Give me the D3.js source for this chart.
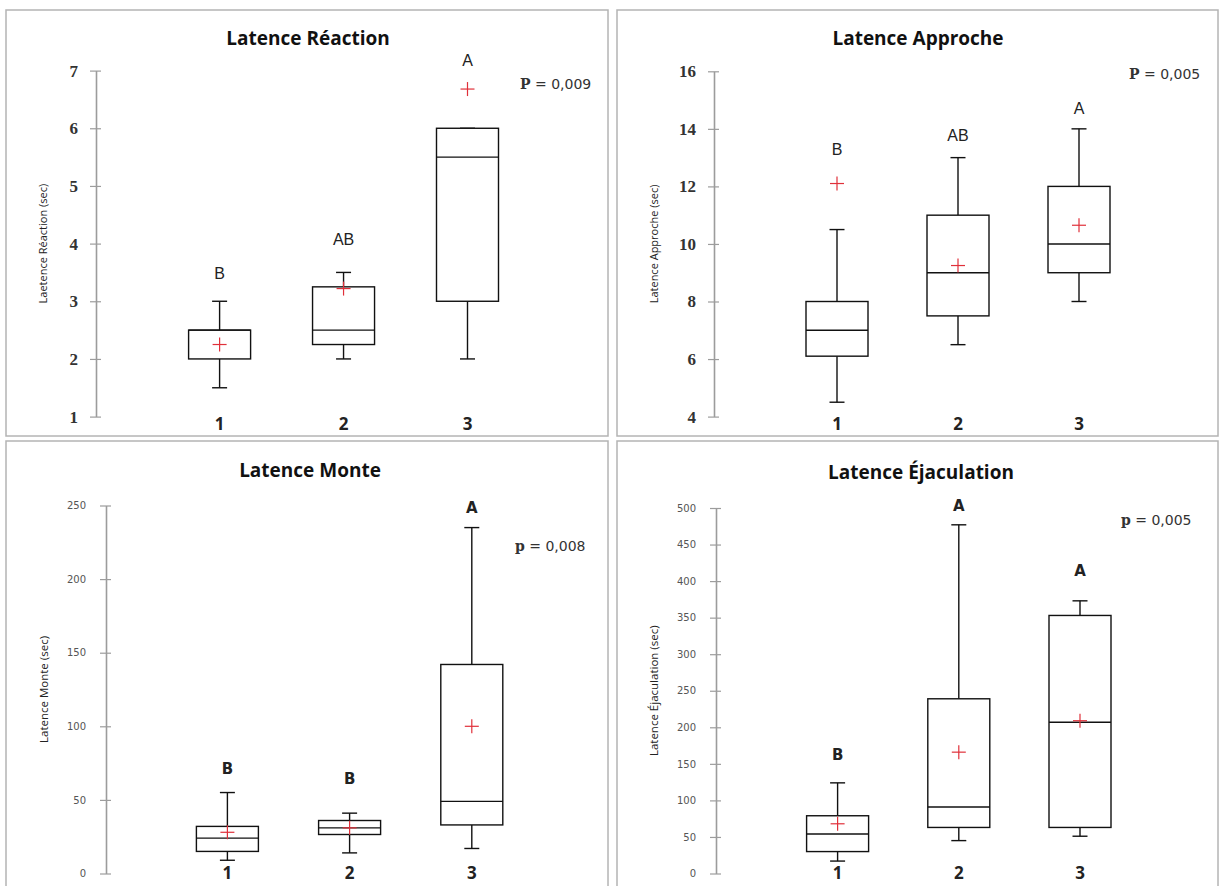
<!DOCTYPE html>
<html>
<head>
<meta charset="utf-8">
<script src="https://cdn.jsdelivr.net/npm/d3@7"></script>
<style>
  html, body { margin: 0; padding: 0; background: #fff; }
  svg { display: block; }
</style>
</head>
<body>
<svg id="chart" width="1221" height="886"></svg>
<script>
// Groups shared by every panel
const groups = ["1", "2", "3"];

// Latence Réaction (sec)
const reactionLow    = [1.5, 2.0, 2.0];
const reactionQ1     = [2.0, 2.25, 3.0];
const reactionMedian = [2.5, 2.5, 5.5];
const reactionQ3     = [2.5, 3.25, 6.0];
const reactionHigh   = [3.0, 3.5, 6.0];
const reactionMean   = [2.25, 3.22, 6.68];
const reactionLetters = ["B", "AB", "A"];
const reactionTicks  = [1, 2, 3, 4, 5, 6, 7];

// Latence Approche (sec)
const approcheLow    = [4.5, 6.5, 8.0];
const approcheQ1     = [6.1, 7.5, 9.0];
const approcheMedian = [7.0, 9.0, 10.0];
const approcheQ3     = [8.0, 11.0, 12.0];
const approcheHigh   = [10.5, 13.0, 14.0];
const approcheMean   = [12.1, 9.25, 10.65];
const approcheLetters = ["B", "AB", "A"];
const approcheTicks  = [4, 6, 8, 10, 12, 14, 16];

// Latence Monte (sec)
const monteLow    = [9, 14, 17];
const monteQ1     = [15, 26.5, 33];
const monteMedian = [24, 31, 49];
const monteQ3     = [32, 36, 142];
const monteHigh   = [55, 41, 235];
const monteMean   = [28, 31, 100];
const monteLetters = ["B", "B", "A"];
const monteTicks  = [0, 50, 100, 150, 200, 250];

// Latence Éjaculation (sec)
const ejacLow    = [17, 45, 51];
const ejacQ1     = [30, 63, 63];
const ejacMedian = [54, 91, 207];
const ejacQ3     = [79, 239, 353];
const ejacHigh   = [124, 477, 373];
const ejacMean   = [68, 166, 209];
const ejacLetters = ["B", "A", "A"];
const ejacTicks  = [0, 50, 100, 150, 200, 250, 300, 350, 400, 450, 500];

const svg = d3.select("#chart");

const panels = [
  {
    title: "Latence Réaction", yLabel: "Laetence Réaction (sec)",
    pLabel: "P", pValue: " = 0,009",
    low: reactionLow, q1: reactionQ1, med: reactionMedian, q3: reactionQ3, high: reactionHigh,
    mean: reactionMean, letters: reactionLetters, letterAt: [3.48, 4.07, 7.18], ticks: reactionTicks,
    domain: [1, 7], frame: [6, 10, 602, 426],
    axisX: 96, yBottom: 416.6, yTop: 70.6, xFirst: 219.6, xLast: 467.5,
    titleX: 308, titleY: 45, yLabelX: 47, catY: 430, pX: 520, pY: 89,
    tickStyle: "serif", letterStyle: "plain"
  },
  {
    title: "Latence Approche", yLabel: "Latence Approche (sec)",
    pLabel: "P", pValue: " = 0,005",
    low: approcheLow, q1: approcheQ1, med: approcheMedian, q3: approcheQ3, high: approcheHigh,
    mean: approcheMean, letters: approcheLetters, letterAt: [13.3, 13.78, 14.7], ticks: approcheTicks,
    domain: [4, 16], frame: [617, 10, 601, 426],
    axisX: 714, yBottom: 416.6, yTop: 71.3, xFirst: 837, xLast: 1079,
    titleX: 918, titleY: 45, yLabelX: 658, catY: 430, pX: 1129, pY: 79,
    tickStyle: "serif", letterStyle: "plain"
  },
  {
    title: "Latence Monte", yLabel: "Latence Monte (sec)",
    pLabel: "p", pValue: " = 0,008",
    low: monteLow, q1: monteQ1, med: monteMedian, q3: monteQ3, high: monteHigh,
    mean: monteMean, letters: monteLetters, letterAt: [71.5, 64.7, 248.9], ticks: monteTicks,
    domain: [0, 250], frame: [6, 441, 602, 460],
    axisX: 106, yBottom: 873.5, yTop: 505.5, xFirst: 227.4, xLast: 471.8,
    titleX: 310, titleY: 477, yLabelX: 48, catY: 879, pX: 515, pY: 551,
    tickStyle: "sans", letterStyle: "bold"
  },
  {
    title: "Latence Éjaculation", yLabel: "Latence Éjaculation  (sec)",
    pLabel: "p", pValue: " = 0,005",
    low: ejacLow, q1: ejacQ1, med: ejacMedian, q3: ejacQ3, high: ejacHigh,
    mean: ejacMean, letters: ejacLetters, letterAt: [162, 503.6, 414], ticks: ejacTicks,
    domain: [0, 500], frame: [617, 441, 601, 460],
    axisX: 716, yBottom: 873.5, yTop: 508, xFirst: 837.6, xLast: 1080,
    titleX: 921, titleY: 479, yLabelX: 658, catY: 879, pX: 1121, pY: 525,
    tickStyle: "sans", letterStyle: "bold"
  }
];

const BOX_HALF = 31;
const CAP_HALF = 7.5;
const PLUS_HALF = 7;

panels.forEach(cfg => {
  const g = svg.append("g");

  // Panel frame
  g.append("rect")
    .attr("x", cfg.frame[0]).attr("y", cfg.frame[1])
    .attr("width", cfg.frame[2]).attr("height", cfg.frame[3])
    .attr("fill", "#fff").attr("stroke", "#b4b4b4").attr("stroke-width", 1.5);

  const y = d3.scaleLinear().domain(cfg.domain).range([cfg.yBottom, cfg.yTop]);
  const x = d3.scalePoint().domain(groups).range([cfg.xFirst, cfg.xLast]);

  // Title
  g.append("text")
    .attr("x", cfg.titleX).attr("y", cfg.titleY)
    .attr("text-anchor", "middle")
    .attr("font-family", "'Open Sans', sans-serif")
    .attr("font-weight", "bold").attr("font-size", 19)
    .attr("fill", "#111")
    .text(cfg.title);

  // Value axis: ticks cross the axis line on both sides
  const axis = d3.axisLeft(y)
    .tickValues(cfg.ticks)
    .tickSizeOuter(0)
    .tickSizeInner(6)
    .tickPadding(cfg.tickStyle === "serif" ? 12 : 14)
    .tickFormat(d3.format("d"));
  const ax = g.append("g")
    .attr("transform", `translate(${cfg.axisX},0)`)
    .call(axis);
  ax.select(".domain").attr("stroke", "#9c9c9c").attr("stroke-width", 1.6);
  ax.selectAll(".tick line")
    .attr("x1", 5).attr("x2", -6)
    .attr("stroke", "#9c9c9c").attr("stroke-width", 1.2);
  if (cfg.tickStyle === "serif") {
    ax.selectAll(".tick text")
      .attr("font-family", "'Liberation Serif', 'DejaVu Serif', serif")
      .attr("font-weight", "bold").attr("font-size", 17)
      .attr("fill", "#333");
  } else {
    ax.selectAll(".tick text")
      .attr("font-family", "'DejaVu Sans', Verdana, sans-serif")
      .attr("font-size", 10)
      .attr("fill", "#555");
  }

  // Value axis title
  g.append("text")
    .attr("transform", `translate(${cfg.yLabelX},${(cfg.yBottom + cfg.yTop) / 2}) rotate(-90)`)
    .attr("text-anchor", "middle")
    .attr("font-family", "'Open Sans', sans-serif")
    .attr("font-size", cfg.tickStyle === "serif" ? 11 : 11.5)
    .attr("fill", "#222")
    .text(cfg.yLabel);

  // Group labels
  g.selectAll("text.cat")
    .data(groups)
    .join("text")
    .attr("class", "cat")
    .attr("x", d => x(d)).attr("y", cfg.catY)
    .attr("text-anchor", "middle")
    .attr("font-family", "'Open Sans', sans-serif")
    .attr("font-weight", "bold").attr("font-size", 17)
    .attr("fill", "#222")
    .text(d => d);

  // Box-and-whisker marks
  const rows = groups.map((k, i) => ({
    k, low: cfg.low[i], q1: cfg.q1[i], med: cfg.med[i], q3: cfg.q3[i],
    high: cfg.high[i], mean: cfg.mean[i], letter: cfg.letters[i], letterAt: cfg.letterAt[i]
  }));

  const box = g.selectAll("g.box").data(rows).join("g").attr("class", "box");
  const line = (sel, x1, y1, x2, y2, color, w) => sel.append("line")
    .attr("x1", x1).attr("y1", y1).attr("x2", x2).attr("y2", y2)
    .attr("stroke", color).attr("stroke-width", w);

  box.each(function (d) {
    const s = d3.select(this);
    const cx = x(d.k);
    // whiskers
    line(s, cx, y(d.q3), cx, y(d.high), "#111", 1.4);
    line(s, cx, y(d.q1), cx, y(d.low), "#111", 1.4);
    line(s, cx - CAP_HALF, y(d.high), cx + CAP_HALF, y(d.high), "#111", 1.4);
    line(s, cx - CAP_HALF, y(d.low), cx + CAP_HALF, y(d.low), "#111", 1.4);
    // box
    s.append("rect")
      .attr("x", cx - BOX_HALF).attr("y", y(d.q3))
      .attr("width", BOX_HALF * 2).attr("height", y(d.q1) - y(d.q3))
      .attr("fill", "#fff").attr("stroke", "#111").attr("stroke-width", 1.4);
    // median
    line(s, cx - BOX_HALF, y(d.med), cx + BOX_HALF, y(d.med), "#111", 1.4);
    // mean marker
    line(s, cx - PLUS_HALF, y(d.mean), cx + PLUS_HALF, y(d.mean), "#e0303a", 1.2);
    line(s, cx, y(d.mean) - PLUS_HALF, cx, y(d.mean) + PLUS_HALF, "#e0303a", 1.2);
    // significance letter
    s.append("text")
      .attr("x", cx).attr("y", y(d.letterAt))
      .attr("dy", "0.36em")
      .attr("text-anchor", "middle")
      .attr("font-family", cfg.letterStyle === "bold" ? "'DejaVu Sans', sans-serif" : "'Liberation Sans', Arial, sans-serif")
      .attr("font-weight", cfg.letterStyle === "bold" ? "bold" : "normal")
      .attr("font-size", cfg.letterStyle === "bold" ? 15 : 16)
      .attr("fill", "#222")
      .text(d.letter);
  });

  // p-value note
  const p = g.append("text")
    .attr("x", cfg.pX).attr("y", cfg.pY)
    .attr("font-size", 14)
    .attr("fill", "#333");
  p.append("tspan")
    .attr("font-family", "'DejaVu Serif', serif")
    .attr("font-weight", "bold")
    .text(cfg.pLabel);
  p.append("tspan")
    .attr("font-family", "'DejaVu Sans', Verdana, sans-serif")
    .text(cfg.pValue);
});
</script>
</body>
</html>
